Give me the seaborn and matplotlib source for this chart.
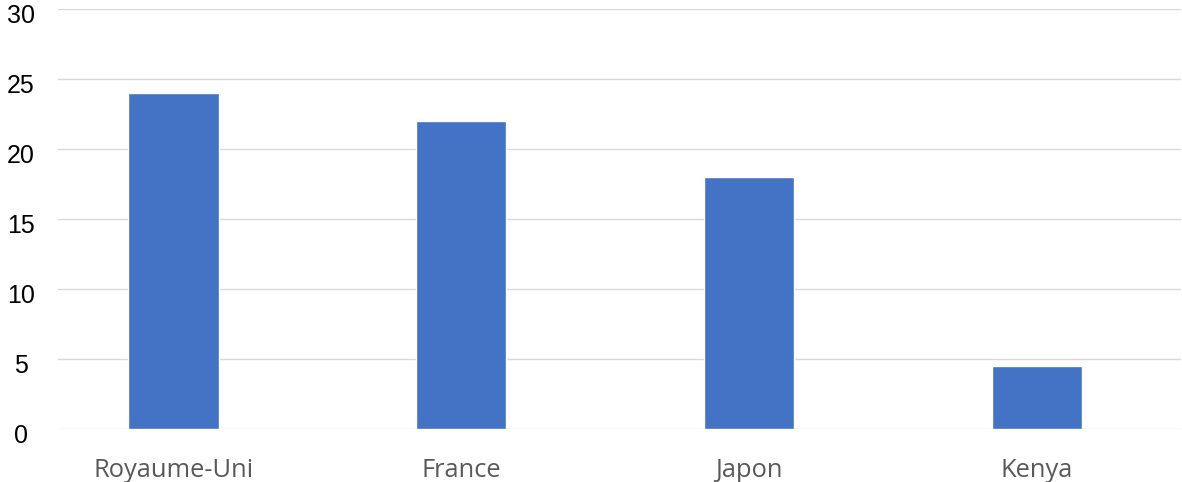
import matplotlib
matplotlib.use("Agg")
import matplotlib.pyplot as plt
import matplotlib.transforms as mtransforms
import seaborn as sns

countries = ["Royaume-Uni", "France", "Japon", "Kenya"]
values = [24, 22, 18, 4.5]
y_ticks = [0, 5, 10, 15, 20, 25, 30]

sns.set_style("white")

fig = plt.figure(figsize=(11.82, 4.82), dpi=100)
ax = fig.add_axes([29.6 / 1182, 53.3 / 482, 1151 / 1182, 420 / 482])

sns.barplot(x=countries, y=values, color="#4472C4", width=0.313,
            saturation=1, ax=ax, zorder=3)

ax.set_xlim(-0.5, 3.5)
ax.set_ylim(0, 30)
for t in y_ticks:
    ax.axhline(t, xmin=(58 - 29.6) / 1151, xmax=1.0, color="#d9d9d9",
               lw=1.0, zorder=1)

for s in ax.spines.values():
    s.set_visible(False)

# y labels sit a little below their gridlines, centred at x ~ 21px
ax.set_yticks(y_ticks)
ax.set_yticklabels([])
ax.tick_params(axis="y", length=0)
trans = mtransforms.blended_transform_factory(ax.transAxes, ax.transData)
shift = mtransforms.ScaledTranslation(-8.6 / 100, -7 / 100, fig.dpi_scale_trans)
for t in y_ticks:
    ax.text(0, t, str(t), transform=trans + shift, ha="center", va="center",
            fontsize=18, family="Liberation Sans", color="black", clip_on=False)

ax.set_xticks(range(len(countries)))
ax.set_xticklabels(countries, fontsize=18.4, family="Open Sans",
                   color="#595959")
ax.tick_params(axis="x", length=0, pad=21)
ax.set_xlabel("")
ax.set_ylabel("")

fig.savefig("out.png", dpi=100)
